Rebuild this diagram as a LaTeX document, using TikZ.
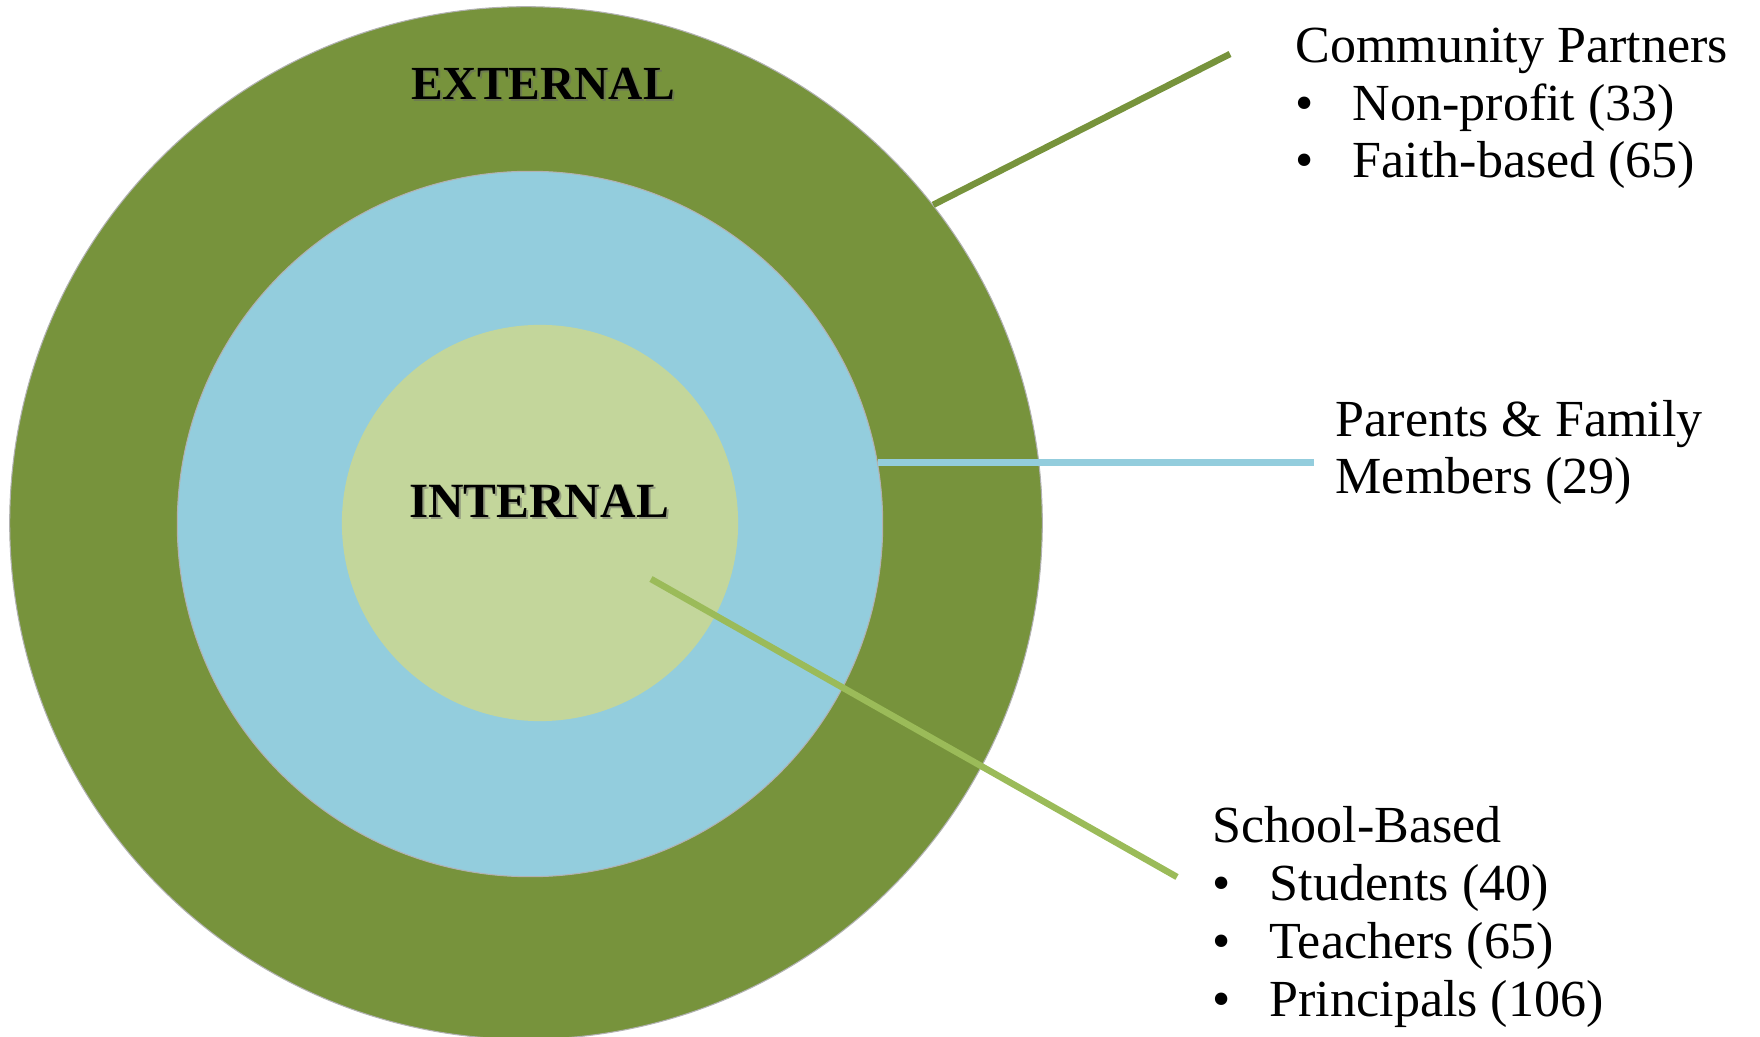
\documentclass[tikz,border=0pt]{standalone}
\usepackage{fontspec}
\setmainfont{Liberation Serif}
\usepackage{tikz}
\usetikzlibrary{positioning}

\definecolor{outergreen}{HTML}{77933C}
\definecolor{ringblue}{HTML}{93CDDD}
\definecolor{innergreen}{HTML}{C3D69B}
\definecolor{linegreen}{HTML}{9BBB59}

\newcommand{\bul}{\makebox[0.57cm][l]{\textbullet}}

\begin{document}
\begin{tikzpicture}[x=0.01cm, y=-0.01cm,
    ring/.style={circle, inner sep=0pt, draw=gray!60, line width=0.3pt},
    tag/.style={anchor=base, inner sep=0pt, font=\fontsize{13.5}{16}\selectfont\bfseries},
    lbl/.style={anchor=base west, align=left, inner sep=0pt, font=\fontsize{14.8}{16.4}\selectfont},
    leader/.style={line width=0.065cm}]
    \useasboundingbox (0,0) rectangle (1760,1037);

    % the three circles
    \node[ring, fill=outergreen, minimum size=10.32cm] (ext) at (526,523) {};
    \node[ring, fill=ringblue, minimum size=7.05cm] (mid) at (530,524) {};
    \node[ring, draw=none, fill=innergreen, minimum size=3.96cm] (int) at (540,523) {};

    % circle titles, shadow first
    \node[tag, text=black!60, opacity=0.5] (extshadow) at (545,102) {EXTERNAL};
    \node[tag] (extlbl) at (543,100) {EXTERNAL};
    \node[tag, text=black!60, opacity=0.5, font=\fontsize{14}{16}\selectfont\bfseries] (intshadow) at (541,520) {INTERNAL};
    \node[tag, font=\fontsize{14}{16}\selectfont\bfseries] (intlbl) at (539,518) {INTERNAL};

    % labels on the right (anchored at the last baseline)
    \node[lbl] (community) at (1295,178) {Community Partners\\
        \bul Non-profit (33)\\
        \bul Faith-based (65)};
    \node[lbl] (parents) at (1335,494) {Parents \& Family\\Members (29)};
    \node[lbl] (school) at (1212,1016) {School-Based\\
        \bul Students (40)\\
        \bul Teachers (65)\\
        \bul Principals (106)};

    % leader lines
    \coordinate (cpend) at (1230,54);
    \coordinate (pfend) at (1314,464);
    \coordinate (sbstart) at (651,579);
    \coordinate (sbend) at (1177,877);

    \draw[leader, outergreen] (ext.38) -- (cpend);
    \draw[leader, ringblue, line width=0.075cm] (mid.10) -- (mid.10 -| pfend);
    \draw[leader, linegreen] (sbstart) -- (sbend);
\end{tikzpicture}
\end{document}
